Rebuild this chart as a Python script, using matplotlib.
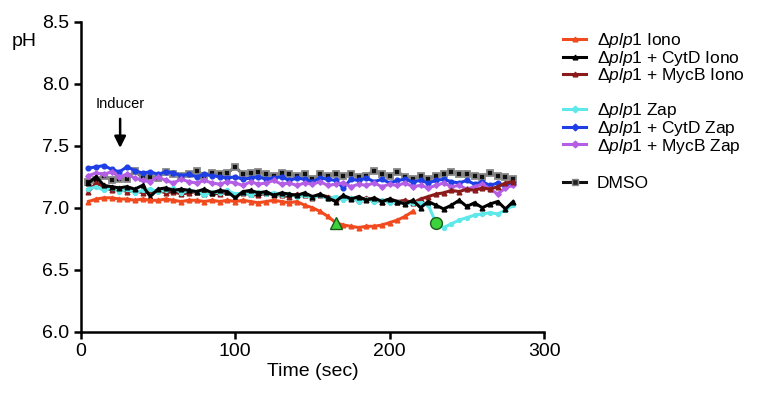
import numpy as np
import matplotlib
matplotlib.use("Agg")
import matplotlib.pyplot as plt
from matplotlib.lines import Line2D

plt.rcParams['font.family'] = ['Liberation Sans', 'DejaVu Sans']
plt.rcParams['mathtext.fontset'] = 'custom'
plt.rcParams['mathtext.it'] = 'Liberation Sans:italic'
plt.rcParams['mathtext.rm'] = 'Liberation Sans'

time = [5 * i for i in range(1, 57)]

dmso = [7.21, 7.22, 7.26, 7.22, 7.23, 7.23, 7.30, 7.24, 7.25, 7.24, 7.29, 7.27, 7.26, 7.27,
        7.30, 7.26, 7.28, 7.27, 7.28, 7.33, 7.27, 7.28, 7.29, 7.27, 7.26, 7.28, 7.27, 7.26,
        7.27, 7.23, 7.27, 7.26, 7.27, 7.26, 7.27, 7.25, 7.26, 7.30, 7.27, 7.26, 7.29, 7.25,
        7.23, 7.26, 7.23, 7.26, 7.27, 7.29, 7.27, 7.27, 7.26, 7.25, 7.28, 7.26, 7.25, 7.23]

cytd_zap = [7.32, 7.33, 7.34, 7.31, 7.29, 7.33, 7.30, 7.28, 7.29, 7.27, 7.29, 7.28, 7.26, 7.27,
            7.25, 7.27, 7.26, 7.25, 7.24, 7.25, 7.23, 7.24, 7.25, 7.23, 7.24, 7.25, 7.22, 7.24,
            7.23, 7.21, 7.24, 7.23, 7.22, 7.16, 7.23, 7.22, 7.24, 7.21, 7.23, 7.20, 7.22, 7.23,
            7.21, 7.22, 7.20, 7.22, 7.23, 7.21, 7.20, 7.22, 7.19, 7.21, 7.18, 7.20, 7.17, 7.20]

mycb_zap = [7.26, 7.28, 7.27, 7.29, 7.25, 7.27, 7.24, 7.22, 7.21, 7.25, 7.22, 7.20, 7.23, 7.21,
            7.20, 7.22, 7.20, 7.19, 7.21, 7.20, 7.18, 7.21, 7.19, 7.20, 7.22, 7.19, 7.20, 7.18,
            7.20, 7.19, 7.21, 7.18, 7.19, 7.20, 7.17, 7.19, 7.18, 7.20, 7.17, 7.19, 7.18, 7.20,
            7.17, 7.18, 7.16, 7.18, 7.20, 7.17, 7.18, 7.15, 7.17, 7.19, 7.15, 7.11, 7.16, 7.18]

mycb_iono = [7.13, 7.20, 7.17, 7.14, 7.15, 7.13, 7.14, 7.12, 7.13, 7.14, 7.12, 7.13, 7.11, 7.12,
             7.13, 7.11, 7.12, 7.11, 7.13, 7.10, 7.12, 7.11, 7.10, 7.12, 7.11, 7.10, 7.09, 7.11,
             7.10, 7.08, 7.10, 7.09, 7.07, 7.09, 7.08, 7.06, 7.08, 7.06, 7.05, 7.07, 7.05, 7.06,
             7.04, 7.07, 7.09, 7.11, 7.12, 7.14, 7.13, 7.15, 7.14, 7.16, 7.15, 7.17, 7.20, 7.21]

cytd_iono = [7.20, 7.25, 7.18, 7.17, 7.16, 7.17, 7.15, 7.18, 7.09, 7.15, 7.16, 7.14, 7.15, 7.14,
             7.13, 7.15, 7.12, 7.14, 7.13, 7.08, 7.13, 7.14, 7.12, 7.13, 7.10, 7.12, 7.11, 7.10,
             7.12, 7.09, 7.11, 7.08, 7.05, 7.10, 7.07, 7.09, 7.06, 7.08, 7.05, 7.07, 7.05, 7.03,
             7.06, 7.00, 7.05, 7.02, 6.99, 7.02, 7.06, 7.01, 7.04, 7.00, 7.03, 7.05, 6.99, 7.05]

zap = [7.15, 7.17, 7.14, 7.16, 7.13, 7.15, 7.12, 7.14, 7.15, 7.13, 7.14, 7.16, 7.12, 7.14,
       7.13, 7.10, 7.13, 7.12, 7.14, 7.11, 7.12, 7.10, 7.13, 7.11, 7.12, 7.10, 7.11, 7.09,
       7.10, 7.08, 7.10, 7.07, 7.09, 7.06, 7.08, 7.05, 7.07, 7.05, 7.06, 7.04, 7.05, 7.03,
       7.04, 7.04, 7.02, 6.88, 6.84, 6.87, 6.90, 6.92, 6.94, 6.95, 6.96, 6.95, 6.98, 7.02]

iono = [7.05, 7.07, 7.08, 7.08, 7.07, 7.07, 7.06, 7.07, 7.06, 7.06, 7.07, 7.06, 7.05, 7.06,
        7.06, 7.05, 7.06, 7.05, 7.06, 7.05, 7.06, 7.05, 7.04, 7.05, 7.06, 7.05, 7.04, 7.05,
        7.02, 7.00, 6.97, 6.93, 6.88, 6.86, 6.85, 6.84, 6.85, 6.85, 6.86, 6.88, 6.90, 6.93, 6.97]

triangle_event = (165, 6.88)
circle_event = (230, 6.88)

fig = plt.figure(figsize=(7.69, 3.99), dpi=100)
ax = fig.add_axes([0.105, 0.169, 0.6025, 0.776])

lw = 2.2
ms = 3.4
ax.plot(time, dmso, color='#5a5a5a', lw=lw, marker='s', ms=5, mfc='#111111', mec='#888888', mew=1.3, zorder=3)
ax.plot(time, cytd_zap, color='#1f3fe6', lw=lw, marker='o', ms=ms, zorder=3)
ax.plot(time, mycb_zap, color='#b45ee6', lw=lw, marker='D', ms=2.8, zorder=3)
ax.plot(time, mycb_iono, color='#8b1a1a', lw=lw, marker='^', ms=ms, zorder=3)
ax.plot(time, zap, color='#5ee8ea', lw=lw, marker='o', ms=2.8, zorder=3)
ax.plot(time, cytd_iono, color='#000000', lw=lw, marker='^', ms=ms, zorder=4)
ax.plot(time[:len(iono)], iono, color='#f04a1e', lw=lw, marker='^', ms=ms, zorder=4)

ax.plot([triangle_event[0]], [triangle_event[1]], marker='^', ms=8, mfc='#3cd23c', mec='#1a5a1a', mew=1, zorder=6)
ax.plot([circle_event[0]], [circle_event[1]], marker='o', ms=8.5, mfc='#3cd23c', mec='#1a5a1a', mew=1, zorder=6)

ax.set_xlim(0, 300)
ax.set_ylim(6.0, 8.5)
ax.set_xticks([0, 100, 200, 300])
ax.set_yticks([6.0, 6.5, 7.0, 7.5, 8.0, 8.5])
ax.set_yticklabels(['6.0', '6.5', '7.0', '7.5', '8.0', '8.5'])
for s in ['top', 'right']:
    ax.spines[s].set_visible(False)
for s in ['left', 'bottom']:
    ax.spines[s].set_linewidth(1.8)
ax.tick_params(width=1.8, length=5, labelsize=14, direction='out')
ax.set_xlabel('Time (sec)', fontsize=14, labelpad=2)
fig.text(0.015, 0.885, 'pH', fontsize=14)

ax.annotate('', xy=(25.5, 7.46), xytext=(25.5, 7.74),
            arrowprops=dict(arrowstyle='-|>', color='black', lw=1.8, mutation_scale=17))
ax.text(25.5, 7.84, 'Inducer', fontsize=10.5, ha='center', va='center')

def h(color, marker, ms=3.4, mfc=None, mec=None):
    return Line2D([], [], color=color, lw=2.2, marker=marker, ms=ms,
                  mfc=mfc if mfc else color, mec=mec if mec else color)

groups = [
    ([h('#f04a1e', '^'), h('#000000', '^'), h('#8b1a1a', '^')],
     [r'Δ$\mathit{plp1}$ Iono', r'Δ$\mathit{plp1}$ + CytD Iono', r'Δ$\mathit{plp1}$ + MycB Iono'],
     0.922),
    ([h('#5ee8ea', 'D'), h('#1f3fe6', 'D'), h('#b45ee6', 'D')],
     [r'Δ$\mathit{plp1}$ Zap', r'Δ$\mathit{plp1}$ + CytD Zap', r'Δ$\mathit{plp1}$ + MycB Zap'],
     0.746),
    ([h('#111111', 's', ms=5, mfc='#222222', mec='#888888')],
     ['DMSO'],
     0.559),
]
for hs, ls, top in groups:
    fig.legend(hs, ls, loc='upper left', bbox_to_anchor=(0.732, top), frameon=False,
               fontsize=12.5, handlelength=1.35, handletextpad=0.6, labelspacing=-0.08,
               borderpad=0, borderaxespad=0)

fig.savefig('out.png', dpi=100)
